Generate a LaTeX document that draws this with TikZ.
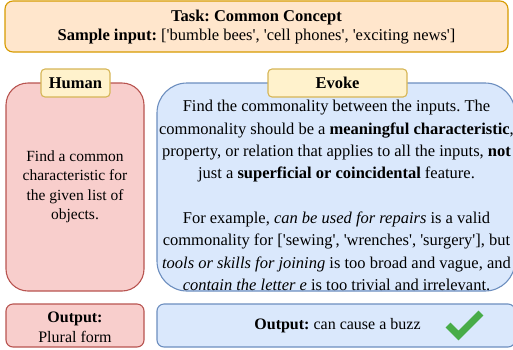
\documentclass[tikz,border=0pt]{standalone}
\usepackage{fontspec}
\setmainfont{Liberation Serif}
\frenchspacing
\definecolor{taskfill}{HTML}{FFE6CC}
\definecolor{taskdraw}{HTML}{D79B00}
\definecolor{humfill}{HTML}{F8CECC}
\definecolor{humdraw}{HTML}{B85450}
\definecolor{evofill}{HTML}{DAE8FC}
\definecolor{evodraw}{HTML}{6C8EBF}
\definecolor{tagfill}{HTML}{FFF2CC}
\definecolor{tagdraw}{HTML}{D6B656}
\definecolor{okgreen}{RGB}{72,172,72}
\newcommand\sq{\textquotesingle}
\tikzset{
  panel/.style={draw, line width=1.1pt, inner sep=0pt},
  taskbox/.style={panel, draw=taskdraw, fill=taskfill, rounded corners=8pt},
  humbox/.style={panel, draw=humdraw, fill=humfill},
  evobox/.style={panel, draw=evodraw, fill=evofill},
  tagbox/.style={panel, draw=tagdraw, fill=tagfill, rounded corners=4pt,
    minimum height=28pt, font=\fontsize{16.5}{20}\selectfont\bfseries},
  body/.style={align=center, inner sep=0pt},
}
\begin{document}
\begin{tikzpicture}[x=1pt, y=-1pt]
\useasboundingbox (0,0) rectangle (513,349);

% task header
\node[taskbox, minimum width=503pt, minimum height=51pt] (task) at (256.5,26.5) {};
\node[body, font=\fontsize{16.5}{19.5}\selectfont] (tasktext) at (256.5,27)
  {\textbf{Task: Common Concept}\\\textbf{Sample input:} [\sq bumble bees\sq, \sq cell phones\sq, \sq exciting news\sq]};

% human column
\node[humbox, rounded corners=22pt, minimum width=138pt, minimum height=208pt] (human) at (75,187) {};
\node[tagbox, minimum width=69pt] (humantag) at (75.5,83) {Human};
\node[body, font=\fontsize{15.5}{19.5}\selectfont] (humantext) at (75,187)
  {Find a common\\characteristic for\\the given list of\\objects.};

% evoke column
\node[evobox, rounded corners=30pt, minimum width=358pt, minimum height=208pt] (evoke) at (336,187) {};
\node[tagbox, minimum width=139pt] (evoketag) at (337.5,83) {Evoke};
\node[body, font=\fontsize{16.5}{22.3}\selectfont] (evoketext) at (336.5,195.5)
  {Find the commonality between the inputs. The\\
   commonality should be a \textbf{meaningful characteristic},\\
   property, or relation that applies to all the inputs, \textbf{not}\\
   just a \textbf{superficial or coincidental} feature.\\[22.3pt]
   For example, \textit{can be used for repairs} is a valid\\
   commonality for [\sq sewing\sq, \sq wrenches\sq, \sq surgery\sq], but\\
   \textit{tools or skills for joining} is too broad and vague, and\\
   \textit{contain the letter e} is too trivial and irrelevant.};

% outputs
\node[humbox, rounded corners=7pt, minimum width=138pt, minimum height=43pt] (humanout) at (75,325.5) {};
\node[body, font=\fontsize{16}{20}\selectfont] (humanouttext) at (75,327)
  {\textbf{Output:}\\Plural form};
\node[evobox, rounded corners=7pt, minimum width=358pt, minimum height=43pt] (evokeout) at (336,325.5) {};
\node[body, font=\fontsize{16}{20}\selectfont] (evokeouttext) at (337.5,326)
  {\textbf{Output:} can cause a buzz};

% tick mark
\draw[okgreen, line width=7pt, line join=miter] (448,325) -- (458.5,335.5) -- (481,313);
\end{tikzpicture}
\end{document}
